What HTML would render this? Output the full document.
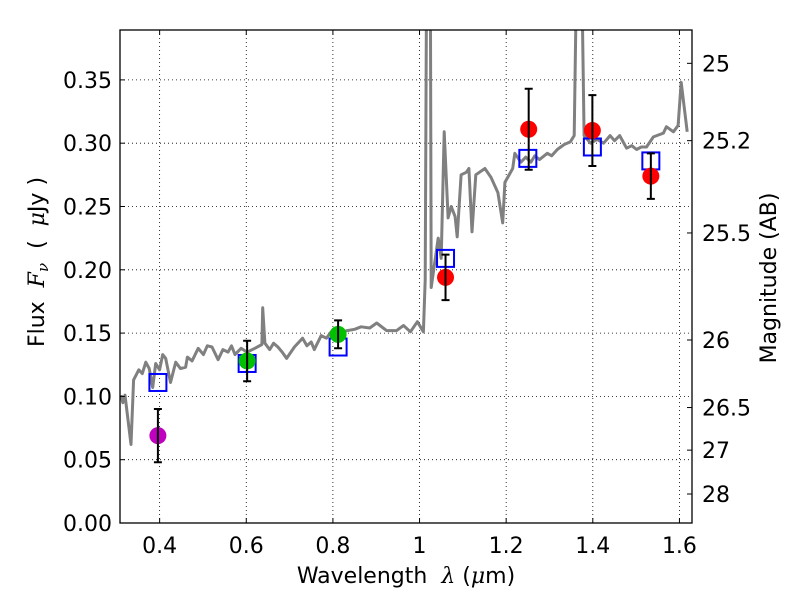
<!DOCTYPE html>
<html><head><meta charset="utf-8"><style>
html,body{margin:0;padding:0;background:#fff;}
svg text{font-family:"DejaVu Sans","Liberation Sans",sans-serif;fill:#000;}
</style></head><body>
<svg id="chart" width="800" height="600" viewBox="0 0 800 600" xmlns="http://www.w3.org/2000/svg">
<rect x="0" y="0" width="800" height="600" fill="#fff"/>
<defs><clipPath id="clip"><rect x="120" y="30" width="572" height="493"/></clipPath></defs>
<g id="grid"></g>
<g id="plot" clip-path="url(#clip)"></g>
<g id="marks"></g>
<g id="axes"></g>
</svg>
<script>
const specWl=[0.311,0.315,0.320,0.334,0.340,0.352,0.360,0.368,0.376,0.384,0.391,0.400,0.407,0.414,0.425,0.437,0.448,0.460,0.464,0.475,0.489,0.501,0.510,0.521,0.535,0.546,0.558,0.566,0.574,0.588,0.602,0.620,0.636,0.638,0.643,0.654,0.663,0.673,0.683,0.693,0.711,0.730,0.740,0.750,0.757,0.773,0.785,0.796,0.815,0.833,0.850,0.865,0.885,0.901,0.924,0.947,0.963,0.979,0.995,1.009,1.013,1.016,1.025,1.027,1.043,1.050,1.057,1.066,1.073,1.082,1.087,1.096,1.108,1.114,1.121,1.130,1.151,1.165,1.181,1.192,1.197,1.215,1.220,1.234,1.245,1.257,1.266,1.277,1.295,1.305,1.318,1.334,1.348,1.357,1.362,1.375,1.380,1.395,1.410,1.425,1.440,1.450,1.462,1.478,1.490,1.501,1.512,1.524,1.540,1.563,1.570,1.586,1.597,1.604,1.618];
const specFlux=[0.101,0.095,0.101,0.062,0.113,0.121,0.118,0.127,0.122,0.107,0.126,0.121,0.133,0.130,0.111,0.127,0.122,0.123,0.131,0.128,0.138,0.133,0.140,0.139,0.129,0.137,0.135,0.140,0.133,0.138,0.135,0.138,0.141,0.170,0.142,0.137,0.142,0.139,0.135,0.130,0.139,0.146,0.140,0.143,0.137,0.148,0.146,0.151,0.150,0.152,0.153,0.155,0.154,0.158,0.152,0.152,0.156,0.151,0.159,0.151,0.192,0.42,0.42,0.186,0.225,0.209,0.309,0.241,0.250,0.242,0.226,0.275,0.277,0.280,0.230,0.275,0.280,0.273,0.261,0.237,0.269,0.280,0.292,0.285,0.289,0.285,0.290,0.287,0.292,0.290,0.295,0.299,0.301,0.306,0.42,0.42,0.306,0.300,0.303,0.300,0.306,0.302,0.306,0.296,0.298,0.295,0.297,0.297,0.305,0.308,0.313,0.309,0.314,0.348,0.309];
const photWl=[0.396,0.602,0.812,1.060,1.252,1.399,1.534];
const photFlux=[0.069,0.128,0.149,0.194,0.311,0.310,0.274];
const photErr=[0.021,0.016,0.011,0.018,0.032,0.028,0.018];
const photColor=['#bf00bf','#00c000','#00c000','#ff0000','#ff0000','#ff0000','#ff0000'];
const modelWl=[0.396,0.602,0.812,1.060,1.250,1.399,1.534];
const modelFlux=[0.111,0.126,0.139,0.209,0.288,0.297,0.286];
const xTicks=[0.4,0.6,0.8,1.0,1.2,1.4,1.6];
const xTickLabels=['0.4','0.6','0.8','1','1.2','1.4','1.6'];
const yTicks=[0,0.05,0.10,0.15,0.20,0.25,0.30,0.35];
const yTickLabels=['0.00','0.05','0.10','0.15','0.20','0.25','0.30','0.35'];
const magTicks=[25,25.2,25.5,26,26.5,27,28];
const magTickLabels=['25','25.2','25.5','26','26.5','27','28'];

const L=120,R=692,T=30,B=523;
const X0=0.3085,X1=1.629,Y0=0,Y1=0.3894;
const sx=v=>L+(v-X0)/(X1-X0)*(R-L);
const sy=v=>B-(v-Y0)/(Y1-Y0)*(B-T);
const magToFlux=m=>Math.pow(10,(23.9-m)/2.5);
const NS='http://www.w3.org/2000/svg';
function mk(tag,attrs,parent){const e=document.createElementNS(NS,tag);for(const k in attrs)e.setAttribute(k,attrs[k]);parent.appendChild(e);return e;}
const grid=document.getElementById('grid'),plot=document.getElementById('plot'),marks=document.getElementById('marks'),axes=document.getElementById('axes');

xTicks.forEach((t,i)=>{
  const g=mk('line',{x1:sx(t),x2:sx(t),y1:T,y2:B,stroke:'#000','stroke-width':0.8,'stroke-dasharray':'1,3'},grid);
  
  
  mk('line',{x1:sx(t),x2:sx(t),y1:B,y2:B-5,stroke:'#000','stroke-width':1},axes);
  mk('line',{x1:sx(t),x2:sx(t),y1:T,y2:T+5,stroke:'#000','stroke-width':1},axes);
  const tx=mk('text',{x:sx(t),y:B+30,'text-anchor':'middle','font-size':22},axes);
  tx.textContent=xTickLabels[i];
  
  
});
yTicks.forEach((t,i)=>{
  const g=mk('line',{x1:L,x2:R,y1:sy(t),y2:sy(t),stroke:'#000','stroke-width':0.8,'stroke-dasharray':'1,3'},grid);
  
  
  mk('line',{x1:L,x2:L+5,y1:sy(t),y2:sy(t),stroke:'#000','stroke-width':1},axes);
  const tx=mk('text',{x:L-8,y:sy(t)+8,'text-anchor':'end','font-size':22},axes);
  tx.textContent=yTickLabels[i];
  
  
});
magTicks.forEach((m,i)=>{
  const y=sy(magToFlux(m));
  mk('line',{x1:R,x2:R-5,y1:y,y2:y,stroke:'#000','stroke-width':1},axes);
  const tx=mk('text',{x:R+10,y:y+8,'text-anchor':'start','font-size':22},axes);
  tx.textContent=magTickLabels[i];
  
  
});

let d='';
specWl.forEach((w,i)=>{d+=(i?'L':'M')+sx(w).toFixed(1)+','+sy(specFlux[i]).toFixed(1);});
const sp=mk('path',{d:d,fill:'none',stroke:'#808080','stroke-width':3,'stroke-linejoin':'round'},plot);



modelWl.forEach((w,i)=>{
  const r=mk('rect',{x:sx(w)-8.5,y:sy(modelFlux[i])-8.5,width:17,height:17,fill:'none',stroke:'#0000ff','stroke-width':2},marks);
  
  
});
photWl.forEach((w,i)=>{
  const x=sx(w),yt=sy(photFlux[i]+photErr[i]),yb=sy(photFlux[i]-photErr[i]);
  const c=mk('circle',{cx:x,cy:sy(photFlux[i]),r:8.5,fill:photColor[i]},marks);
  
  
  const e=mk('path',{d:`M${x},${yt}L${x},${yb}M${x-4},${yt}L${x+4},${yt}M${x-4},${yb}L${x+4},${yb}`,stroke:'#000','stroke-width':2,fill:'none'},marks);
  
  
});
const fr=mk('rect',{x:L,y:T,width:R-L,height:B-T,fill:'none',stroke:'#000','stroke-width':1.3},axes);


</script>
<svg style="position:absolute;left:0;top:0" width="800" height="600">
<text x="406" y="583" text-anchor="middle" font-size="22" font-family="DejaVu Sans, Liberation Sans, sans-serif">Wavelength&#160;&#160;<tspan font-style="italic" font-family="DejaVu Serif, Liberation Serif, serif">λ</tspan> (<tspan font-style="italic" font-family="DejaVu Serif, Liberation Serif, serif">μ</tspan>m)</text>
<text transform="translate(44,262) rotate(-90)" text-anchor="middle" font-size="22" font-family="DejaVu Sans, Liberation Sans, sans-serif">Flux&#160;&#160;<tspan font-style="italic" font-family="DejaVu Serif, Liberation Serif, serif">F</tspan><tspan font-style="italic" font-size="15" dy="4" font-family="DejaVu Serif, Liberation Serif, serif">ν</tspan><tspan dy="-4">&#160;&#160;(&#160;&#160;</tspan><tspan font-style="italic" font-family="DejaVu Serif, Liberation Serif, serif">μ</tspan>Jy )</text>
<text transform="translate(776,278) rotate(-90)" text-anchor="middle" font-size="22" font-family="DejaVu Sans, Liberation Sans, sans-serif">Magnitude (AB)</text>
</svg>
</body></html>
